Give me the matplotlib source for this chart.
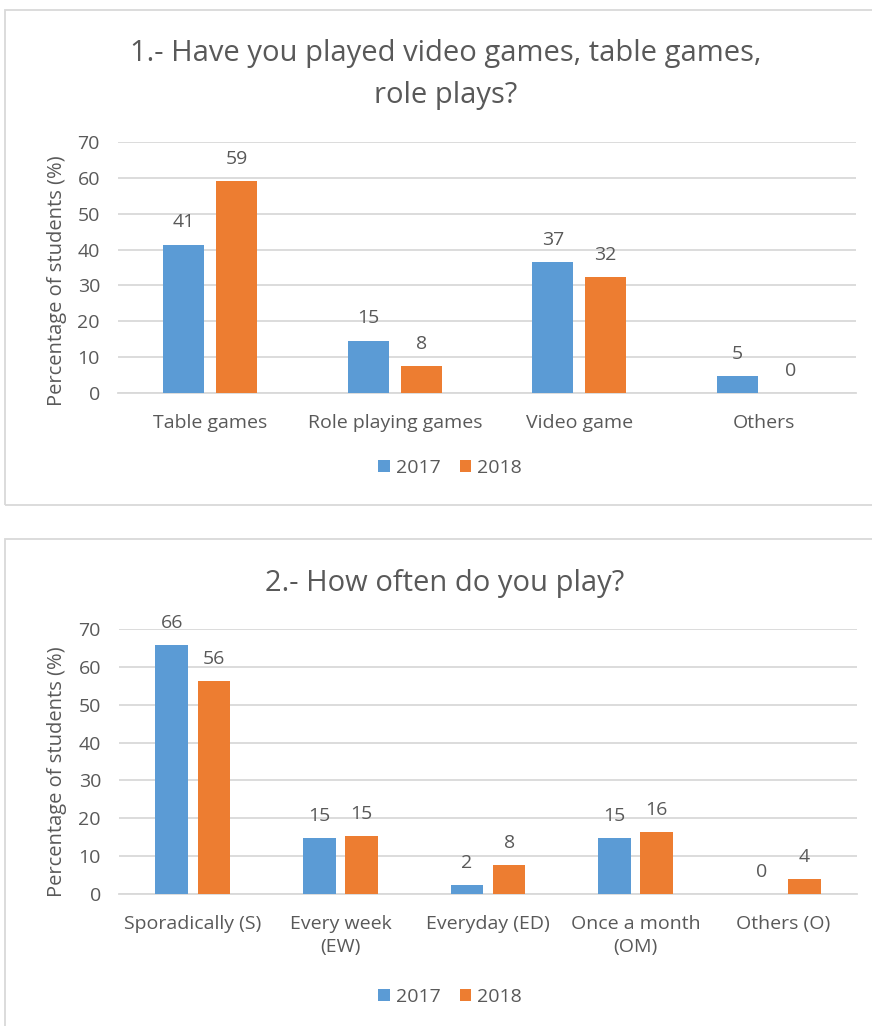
import matplotlib.pyplot as plt
from matplotlib.patches import Rectangle

plt.rcParams['font.family'] = ['Open Sans', 'DejaVu Sans']

W, H = 872, 1026
TXT = '#595959'
GRID = '#d9d9d9'
BLUE = '#5B9BD5'
ORANGE = '#ED7D31'
FS = 14

# chart 1 data
q1_title = '1.- Have you played video games, table games,\nrole plays?'
q1_cats = ['Table games', 'Role playing games', 'Video game', 'Others']
q1_2017 = [41.4, 14.6, 36.6, 4.8]
q1_2018 = [59.2, 7.6, 32.3, 0]

# chart 2 data
q2_title = '2.- How often do you play?'
q2_cats = ['Sporadically (S)', 'Every week\n(EW)', 'Everyday (ED)', 'Once a month\n(OM)', 'Others (O)']
q2_2017 = [65.7, 14.7, 2.4, 14.7, 0]
q2_2018 = [56.2, 15.3, 7.6, 16.3, 3.9]

years = ['2017', '2018']
yticks = [0, 10, 20, 30, 40, 50, 60, 70]


def fx(px):
  return px / W


def fy(py):
  return 1 - py / H


def draw_panel(ax, cats, v17, v18):
  n = len(cats)
  w = 0.222
  off = 0.143
  xs = list(range(n))
  b1 = ax.bar([x - off for x in xs], v17, width=w, color=BLUE, zorder=3)
  b2 = ax.bar([x + off for x in xs], v18, width=w, color=ORANGE, zorder=3)
  for bars, vals in ((b1, v17), (b2, v18)):
    for rect, v in zip(bars, vals):
      ax.annotate('{:.0f}'.format(v), (rect.get_x() + rect.get_width() / 2, v),
                  xytext=(0, 16), textcoords='offset points', ha='center', va='center',
                  fontsize=FS, color=TXT)
  ax.set_xlim(-0.5, n - 0.5)
  ax.set_ylim(0, 70)
  ax.set_yticks(yticks)
  ax.set_xticks(xs)
  ax.set_xticklabels(cats, fontsize=FS, color=TXT, linespacing=1.4)
  ax.tick_params(axis='y', length=0, pad=13, labelsize=FS, labelcolor=TXT)
  ax.tick_params(axis='x', length=0, pad=15)
  ax.grid(axis='y', color=GRID, linewidth=1.3, zorder=0)
  for s in ('top', 'right', 'left'):
    ax.spines[s].set_visible(False)
  ax.spines['bottom'].set_color(GRID)
  ax.spines['bottom'].set_linewidth(1.3)
  return b1, b2


fig = plt.figure(figsize=(W / 100, H / 100), dpi=100)

# panel borders
fig.add_artist(Rectangle((fx(5), fy(505)), 1.0, fy(10) - fy(505), transform=fig.transFigure,
                         fill=False, edgecolor=GRID, linewidth=1.3))
fig.add_artist(Rectangle((fx(5), -0.05), 1.0, fy(539) + 0.05, transform=fig.transFigure,
                         fill=False, edgecolor=GRID, linewidth=1.3))

ax1 = fig.add_axes([fx(118), fy(393), fx(856) - fx(118), fy(142) - fy(393)])
h1 = draw_panel(ax1, q1_cats, q1_2017, q1_2018)
fig.text(fx(446), fy(74.5), q1_title, ha='center', va='center', fontsize=21, color=TXT, linespacing=1.6)
fig.text(fx(57), fy(281), 'Percentage of students (%)', rotation=90, ha='center', va='center',
         fontsize=14.5, color=TXT)
fig.legend(h1, years, loc='center', bbox_to_anchor=(fx(450), fy(468)), ncol=2, frameon=False,
           handlelength=0.6, handleheight=0.6, handletextpad=0.3, columnspacing=1.0,
           fontsize=FS, labelcolor=TXT)

ax2 = fig.add_axes([fx(119), fy(894), fx(857) - fx(119), fy(629) - fy(894)])
h2 = draw_panel(ax2, q2_cats, q2_2017, q2_2018)
fig.text(fx(445), fy(583), q2_title, ha='center', va='center', fontsize=21, color=TXT)
fig.text(fx(57), fy(772), 'Percentage of students (%)', rotation=90, ha='center', va='center',
         fontsize=14.5, color=TXT)
fig.legend(h2, years, loc='center', bbox_to_anchor=(fx(450), fy(997)), ncol=2, frameon=False,
           handlelength=0.6, handleheight=0.6, handletextpad=0.3, columnspacing=1.0,
           fontsize=FS, labelcolor=TXT)

fig.savefig('out.png', dpi=100)
